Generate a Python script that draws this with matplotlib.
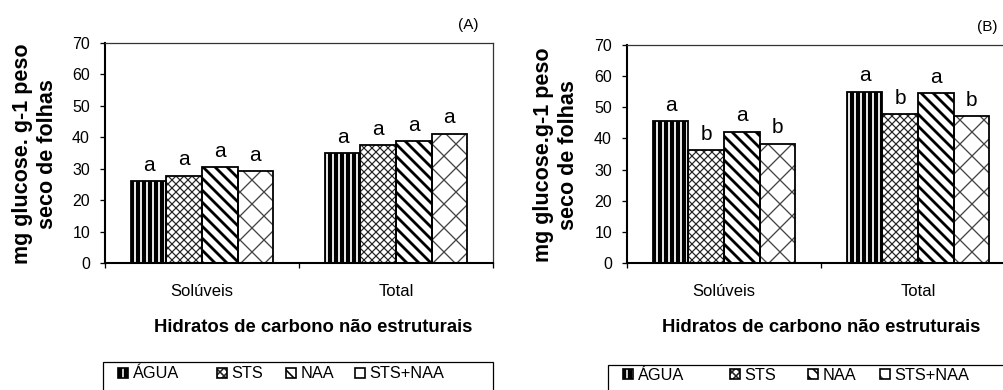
import numpy as np
import matplotlib
matplotlib.use("Agg")
import matplotlib.pyplot as plt
from matplotlib.patches import Patch, Rectangle

# figure is drawn at 72 dpi so the hatch cells come out as fine as the original;
# S turns "100 dpi points" into points at this dpi
DPI = 72
S = 100 / DPI

plt.rcParams['font.family'] = ['Liberation Sans', 'DejaVu Sans']
plt.rcParams['hatch.linewidth'] = 1.6

# data
categories = ['Solúveis', 'Total']
treatments = ['ÁGUA', 'STS', 'NAA', 'STS+NAA']

values_A = {'ÁGUA': [26.1, 34.9], 'STS': [27.8, 37.4],
            'NAA': [30.5, 38.8], 'STS+NAA': [29.2, 41.2]}
letters_A = {'ÁGUA': ['a', 'a'], 'STS': ['a', 'a'],
             'NAA': ['a', 'a'], 'STS+NAA': ['a', 'a']}

values_B = {'ÁGUA': [45.6, 55.0], 'STS': [36.3, 47.9],
            'NAA': [42.2, 54.5], 'STS+NAA': [38.3, 47.2]}
letters_B = {'ÁGUA': ['a', 'a'], 'STS': ['b', 'b'],
             'NAA': ['a', 'a'], 'STS+NAA': ['b', 'b']}

yticks = np.arange(0, 71, 10)

# face colour, hatch colour, hatch pattern, hatch width (px)
styles = {
    'ÁGUA': ('black', 'white', '||', 1.8),
    'STS': ('white', '#222222', 'xxx', 1.2),
    'NAA': ('white', 'black', '\\\\', 2.8),
    'STS+NAA': ('white', '#444444', 'x', 1.3),
}

W, H = 1003, 390
fig = plt.figure(figsize=(W / DPI, H / DPI), dpi=DPI)


def fx(px):
    return px / W


def fy(py):
    return 1 - py / H


def hatched(ax, x, h, width, name):
    face, hcol, hatch, hlw = styles[name]
    bars = ax.bar(x, h, width, color=face, edgecolor=hcol, hatch=hatch,
                  linewidth=0, zorder=2)
    for b in bars:
        if hasattr(b, 'set_hatch_linewidth'):
            b.set_hatch_linewidth(hlw)
    ax.bar(x, h, width, fill=False, edgecolor='black', linewidth=1.3 * S, zorder=3)


def panel(rect, values, letters, tag, tag_xy, ylabel, ylabel_xy, xlabel_x,
          leg_box, leg_x, leg_y):
    ax = fig.add_axes(rect)
    n = len(treatments)
    width = 0.183
    xc = np.arange(len(categories)) + 0.5
    for i, t in enumerate(treatments):
        x = xc + (i - (n - 1) / 2) * width
        hatched(ax, x, values[t], width, t)
        for xi, v, let in zip(x, values[t], letters[t]):
            ax.text(xi, v + 3.3, let, ha='center', va='baseline', fontsize=15 * S)

    ax.set_xlim(0, len(categories))
    ax.set_ylim(0, 70)
    ax.set_yticks(yticks)
    ax.tick_params(axis='y', length=5, width=1.3, labelsize=11.5 * S, pad=10)
    ax.set_xticks(np.arange(len(categories) + 1))
    ax.set_xticklabels([])
    ax.set_xticks(xc, minor=True)
    ax.set_xticklabels(categories, minor=True)
    ax.tick_params(axis='x', which='major', length=5, width=1.3)
    ax.tick_params(axis='x', which='minor', length=0, labelsize=12 * S, pad=15 * S)
    for s in ['left', 'bottom']:
        ax.spines[s].set_linewidth(1.5 * S)
    for s in ['top', 'right']:
        ax.spines[s].set_linewidth(0.9 * S)
        ax.spines[s].set_color('#333333')
    ax.set_xlabel('Hidratos de carbono não estruturais', fontsize=13.3 * S,
                  fontweight='bold')
    ax.xaxis.set_label_coords(xlabel_x, -(319 - 263) / (rect[3] * H))

    fig.text(fx(ylabel_xy[0]), fy(ylabel_xy[1]), ylabel, rotation=90,
             ha='center', va='center', fontsize=15.5 * S, fontweight='bold',
             multialignment='center', linespacing=1.2)
    fig.text(fx(tag_xy[0]), fy(tag_xy[1]), tag, ha='center', va='center',
             fontsize=11 * S)

    # legend box (runs off the bottom edge like the original)
    x0, y0, x1 = leg_box
    fig.patches.append(Rectangle((fx(x0), -0.1), fx(x1 - x0), fy(y0) + 0.1,
                                 transform=fig.transFigure, fill=False,
                                 edgecolor='black', linewidth=0.9 * S))
    for t, mx in zip(treatments, leg_x):
        face, hcol, hatch, hlw = styles[t]
        h = (Patch(facecolor=face, edgecolor=hcol, hatch=hatch, linewidth=0),
             Patch(fill=False, edgecolor='black', linewidth=1.2 * S))
        fig.legend([h], [t], frameon=False, fontsize=11.8 * S,
                   loc='center left', bbox_to_anchor=(fx(mx), fy(leg_y)),
                   handlelength=0.6, handleheight=0.6, handletextpad=0.3,
                   borderpad=0, borderaxespad=0)
    return ax


panel([fx(105), fy(263), fx(388), (263 - 43) / H], values_A, letters_A,
      '(A)', (468, 25), 'mg glucose. g-1 peso\nseco de folhas', (35, 154), 0.536,
      (103, 362, 493), [118, 217, 286, 355], 374)
panel([fx(627), fy(263), fx(388), (263 - 45) / H], values_B, letters_B,
      '(B)', (987, 27), 'mg glucose.g-1 peso\nseco de folhas', (556, 155), 0.5,
      (608, 365, 1010), [623, 730, 808, 880], 375)

fig.savefig('out.png', dpi=DPI)
